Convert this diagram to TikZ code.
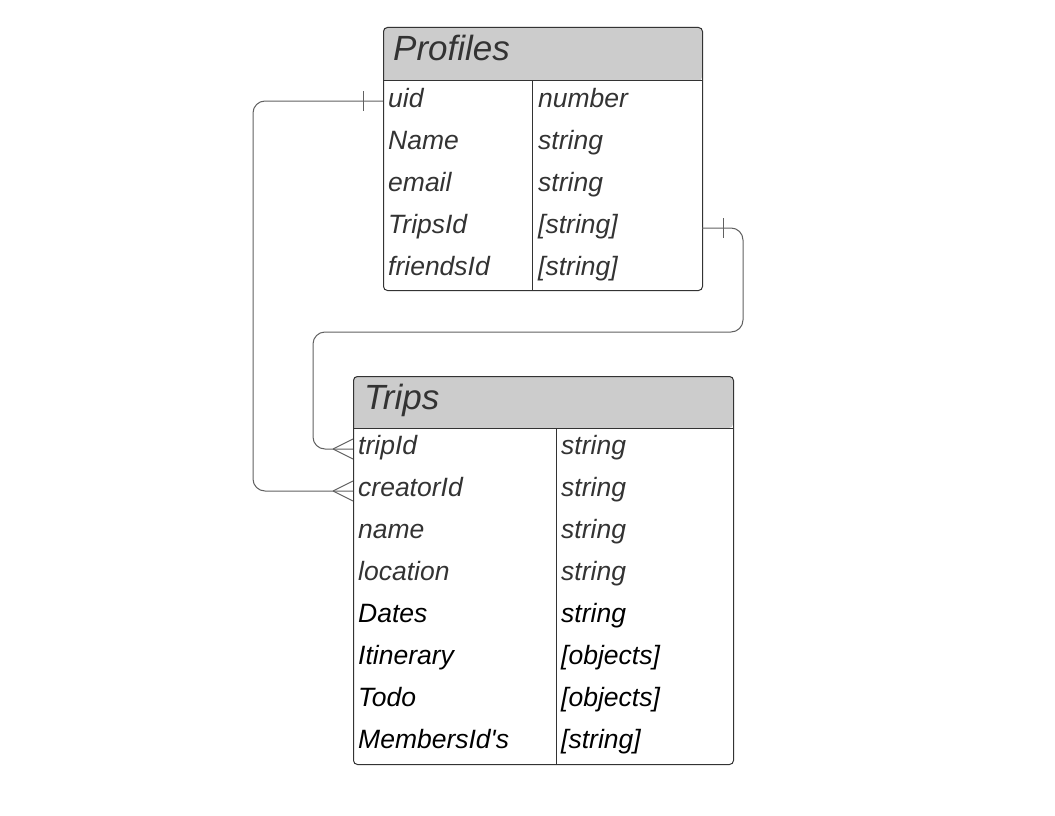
\documentclass[tikz,border=0pt]{standalone}
\usepackage{fontspec}
\setmainfont{Liberation Sans}
\usetikzlibrary{calc}
\definecolor{hdrgray}{HTML}{CCCCCC}
\definecolor{ink}{HTML}{333333}
\tikzset{
	tbl/.style={draw=ink, line width=1, rounded corners=4},
	hdr/.style={fill=hdrgray, rounded corners=4},
	title/.style={anchor=base west, inner sep=0, text=ink, font=\fontsize{35}{40}\selectfont\itshape},
	field/.style={anchor=base west, inner sep=0, text=ink, font=\fontsize{26.5}{30}\selectfont\itshape},
	fieldb/.style={field, text=black},
	conn/.style={draw=black!62, line width=1},
}
\begin{document}
\begin{tikzpicture}[x=1pt, y=-1pt]
		%%%%% START %%%%%
		\useasboundingbox (0, 0) rectangle (1055, 816);
		
		% Profiles
		\fill[hdrgray] (383, 81) [rounded corners=4] |- (702, 27) -- (702, 81) [sharp corners] -- cycle;
		\node[tbl, minimum width=319, minimum height=263, anchor=north west] (prof) at (383, 27) {};
		\draw[ink, line width=1] (383, 81) -- (702, 81);
		\draw[ink, line width=1] (532, 81) -- (532, 291);
		\node[title] (prof-t) at (393, 60) {Profiles};
		
		\node[field] (p-uid) at (388, 107) {uid};
		\node[field] (p-name) at (388, 149) {Name};
		\node[field] (p-email) at (388, 191) {email};
		\node[field] (p-trips) at (388, 233) {TripsId};
		\node[field] (p-friends) at (388, 275) {friendsId};
		
		\node[field] (p-uid-ty) at (538, 107) {number};
		\node[field] (p-name-ty) at (538, 149) {string};
		\node[field] (p-email-ty) at (538, 191) {string};
		\node[field] (p-trips-ty) at (538, 233) {[string]};
		\node[field] (p-friends-ty) at (538, 275) {[string]};
		
		% Trips
		\fill[hdrgray] (353, 428) [rounded corners=4] |- (733, 376) -- (733, 428) [sharp corners] -- cycle;
		\node[tbl, minimum width=380, minimum height=388, anchor=north west] (trips) at (353, 376) {};
		\draw[ink, line width=1] (353, 428) -- (733, 428);
		\draw[ink, line width=1] (556, 428) -- (556, 764);
		\node[title] (trips-t) at (364, 409) {Trips};
		
		\node[field] (t-trip) at (358, 454) {tripId};
		\node[field] (t-creator) at (358, 496) {creatorId};
		\node[field] (t-name) at (358, 538) {name};
		\node[field] (t-loc) at (358, 580) {location};
		\node[fieldb] (t-dates) at (358, 622) {Dates};
		\node[fieldb] (t-itin) at (358, 664) {Itinerary};
		\node[fieldb] (t-todo) at (358, 706) {Todo};
		\node[fieldb] (t-members) at (358, 748) {MembersId\textquotesingle s};
		
		\node[field] (t-trip-ty) at (561, 454) {string};
		\node[field] (t-creator-ty) at (561, 496) {string};
		\node[field] (t-name-ty) at (561, 538) {string};
		\node[field] (t-loc-ty) at (561, 580) {string};
		\node[fieldb] (t-dates-ty) at (561, 622) {string};
		\node[fieldb] (t-itin-ty) at (561, 664) {[objects]};
		\node[fieldb] (t-todo-ty) at (561, 706) {[objects]};
		\node[fieldb] (t-members-ty) at (561, 748) {[string]};
		
		% connector ends
		\coordinate (pu) at (383, 101);
		\coordinate (pt) at (702, 228);
		\coordinate (tt) at (trips.west |- 0, 449);
		\coordinate (tc) at (trips.west |- 0, 491);
		
		% uid -> creatorId
		\draw[conn, rounded corners=12] (pu) -- (253, 101) -- (253, 491) -- (tc);
		\draw[conn] ($(pu)+(-20, -10)$) -- ($(pu)+(-20, 10)$);
		\draw[conn] ($(tc)+(-20, 0)$) -- ($(tc)+(0, -10)$);
		\draw[conn] ($(tc)+(-20, 0)$) -- ($(tc)+(0, 10)$);
		
		% TripsId -> tripId
		\draw[conn, rounded corners=12] (pt) -- (743, 228) -- (743, 332) -- (313, 332) -- (313, 449) -- (tt);
		\draw[conn] ($(pt)+(21, -10)$) -- ($(pt)+(21, 10)$);
		\draw[conn] ($(tt)+(-20, 0)$) -- ($(tt)+(0, -10)$);
		\draw[conn] ($(tt)+(-20, 0)$) -- ($(tt)+(0, 10)$);
		
		%%%%% END %%%%%
	\end{tikzpicture}
\end{document}
